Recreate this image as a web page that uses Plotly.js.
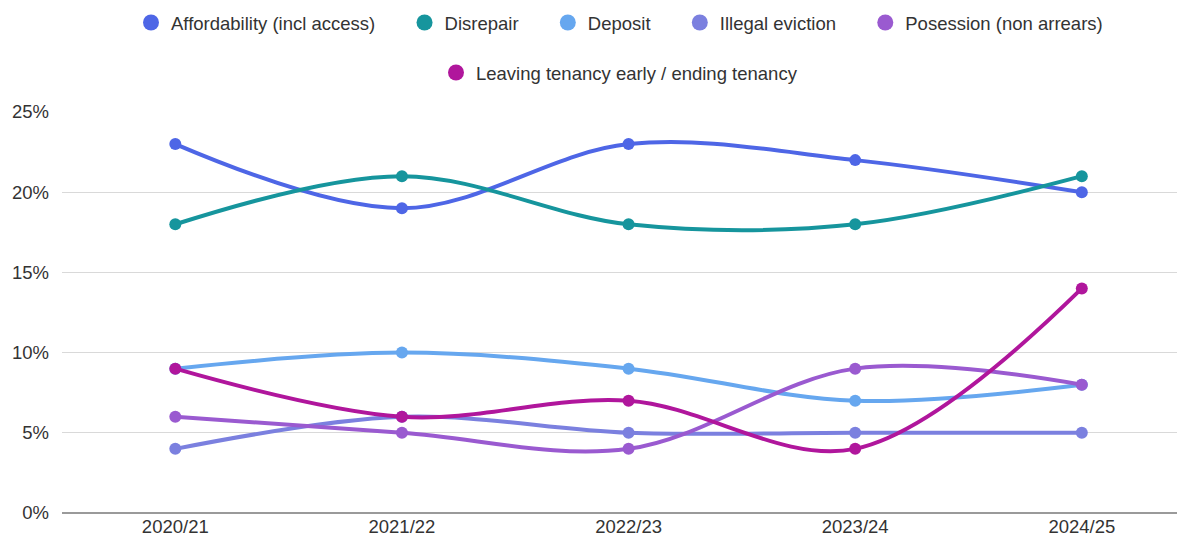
<!DOCTYPE html>
<html><head><meta charset="utf-8">
<script src="https://cdn.plot.ly/plotly-3.0.1.min.js"></script>
<style>html,body{margin:0;padding:0;background:#fff}#chart{width:1177px;height:540px}</style>
</head><body><div id="chart"></div>
<script>
const years = ["2020/21","2021/22","2022/23","2023/24","2024/25"];
const seriesNames = ["Affordability (incl access)","Disrepair","Deposit","Illegal eviction","Posession (non arrears)","Leaving tenancy early / ending tenancy"];
const affordability = [23,19,23,22,20];
const disrepair = [18,21,18,18,21];
const deposit = [9,10,9,7,8];
const illegalEviction = [4,6,5,5,5];
const posession = [6,5,4,9,8];
const leavingTenancy = [9,6,7,4,14];
const yTicks = [0,5,10,15,20,25];
const yTickLabels = ["0%","5%","10%","15%","20%","25%"];

const values = [affordability,disrepair,deposit,illegalEviction,posession,leavingTenancy];
const colors = ["#4e66e6","#16959d","#66a7ef","#7b80df","#9a5ad0","#b0169c"];
const legendFor = ["legend","legend","legend","legend","legend","legend2"];
const FONT = "'Liberation Sans', Arial, sans-serif";
const PAD = "\u00a0\u00a0\u00a0\u00a0\u2009";

const traces = [];
values.forEach((v,i)=>{
  traces.push({
    x: years, y: v, type:"scatter", mode:"lines+markers", name: seriesNames[i],
    line:{color:colors[i], width:4, shape:"spline", smoothing:1},
    marker:{color:colors[i], size:12},
    showlegend:false, cliponaxis:false, hoverinfo:"skip"
  });
});
values.forEach((v,i)=>{
  const last = (i === 4 || i === 5);
  traces.push({
    x:[null], y:[null], type:"scatter", mode:"markers", name: seriesNames[i] + (last ? "" : PAD),
    marker:{color:colors[i], size:18}, legend: legendFor[i], showlegend:true
  });
});

const legendCommon = {orientation:"h", xref:"paper", xanchor:"center", yref:"container", yanchor:"middle",
  font:{family:FONT, size:18.5, color:"#333"}, bgcolor:"rgba(0,0,0,0)", itemsizing:"trace", traceorder:"normal"};

const layout = {
  width:1177, height:540,
  margin:{l:62, r:0, t:112, b:27},
  paper_bgcolor:"#fff", plot_bgcolor:"#fff",
  font:{family:FONT, size:18, color:"#333"},
  xaxis:{type:"category", range:[-0.5,4.42], showgrid:false, zeroline:false, showline:false, ticks:"", tickfont:{size:18.5,color:"#333"}, fixedrange:true},
  yaxis:{range:[0,25], tickvals:yTicks, ticktext:yTickLabels, showgrid:true, gridcolor:"#d9d9d9", gridwidth:1,
         zeroline:true, zerolinecolor:"#9a9a9a", zerolinewidth:1.5, showline:false, ticks:"", ticklabelstandoff:12, tickfont:{size:18.5,color:"#333"}, fixedrange:true},
  legend: Object.assign({}, legendCommon, {x:0.5, y:1-23/540}),
  legend2: Object.assign({}, legendCommon, {x:0.5, y:1-73/540}),
  showlegend:true
};
Plotly.newPlot("chart", traces, layout, {displayModeBar:false, staticPlot:true});
</script></body></html>
